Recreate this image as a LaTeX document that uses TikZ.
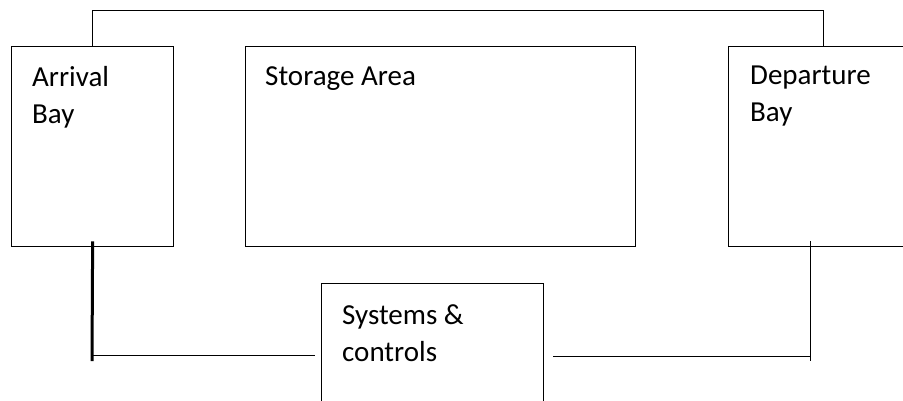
\documentclass[tikz,border=0pt]{standalone}
\usepackage{fontspec}
\setmainfont{Carlito}
\usetikzlibrary{calc}

\begin{document}
\begin{tikzpicture}[x=1pt, y=-1pt,
    bay/.style={draw, line width=1.3pt, inner sep=0pt, anchor=north west, minimum height=200pt},
    txt/.style={anchor=north west, inner sep=0pt, align=left, font=\fontsize{29}{37}\selectfont},
    conn/.style={line width=1pt}]
  \clip (0,0) rectangle (903,400);
  \path node (arr) at (11,46)   [bay, minimum width=162pt] {}
        node (sto) at (245,46)  [bay, minimum width=390pt] {}
        node (dep) at (728,46)  [bay, minimum width=190pt] {}
        node (sys) at (321,283) [bay, minimum width=222pt, minimum height=150pt] {};
  \path node (arrT) at ($(arr.north west)+(21,20)$) [txt] {Arrival\\Bay}
        node (stoT) at ($(sto.north west)+(20,20)$) [txt] {Storage Area}
        node (depT) at ($(dep.north west)+(22,20)$) [txt] {Departure\\Bay}
        node (sysT) at ($(sys.north west)+(21,21)$) [txt] {Systems \&\\controls};
  \coordinate (aJ) at (92,355);
  \coordinate (aB) at (92,361);
  \coordinate (dJ) at (810,356);
  \coordinate (dB) at (810,361);
  \draw[conn] (arr.north) -- ++(0,-36) -| (dep.north);
  \draw[line width=3pt] ([yshift=6pt]arr.south) -- (aB);
  \draw[conn] (aJ) -- ([xshift=-6pt]sys.west |- aJ);
  \draw[conn] (dJ) -- ([xshift=9pt]sys.east |- dJ);
  \draw[conn] ([yshift=6pt]dep.south -| dB) -- (dB);
\end{tikzpicture}
\end{document}
